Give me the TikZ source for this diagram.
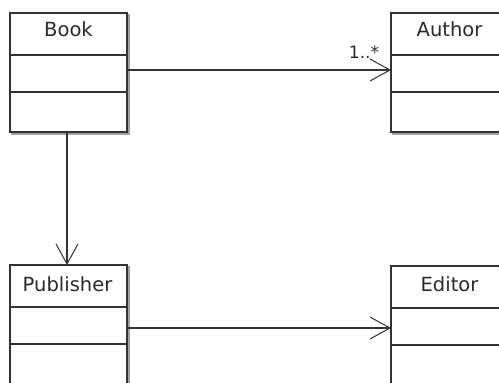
\documentclass[tikz,border=0pt]{standalone}
\usepackage{fontspec}
\setmainfont{DejaVu Sans}
\usetikzlibrary{arrows.meta}
\definecolor{ln}{HTML}{333333}
\definecolor{shd}{HTML}{A0A0A0}
\definecolor{txt}{HTML}{2A2A2A}
\tikzset{
  cls/.style={draw=ln, line width=1.3pt, fill=white, minimum width=117pt, minimum height=119pt,
    anchor=north west, inner sep=0pt, outer sep=0pt},
  shadowbox/.style={draw=shd, line width=1.3pt, minimum width=117pt, minimum height=119pt,
    anchor=north west, inner sep=0pt, outer sep=0pt},
  ctitle/.style={font=\fontsize{19.5}{20}\selectfont, text=txt, inner sep=0pt, anchor=base},
  multl/.style={font=\fontsize{17}{18}\selectfont, text=txt, inner sep=0pt, anchor=base},
  div/.style={draw=ln, line width=1.3pt},
  assoc/.style={draw=ln, line width=1.2pt, -{Straight Barb[length=20pt,width=22pt,line width=1pt]}},
}
\begin{document}
\begin{tikzpicture}[x=1pt,y=-1pt]
\useasboundingbox (0,0) rectangle (499,383);
\clip (0,0) rectangle (499,383);
% shadows
\node[shadowbox] (bookS) at (12,15) {};
\node[shadowbox] (authorS) at (393,15) {};
\node[shadowbox] (publisherS) at (12,267) {};
\node[shadowbox] (editorS) at (393,268) {};
% classes
\node[cls] (book) at (10,13) {};
\node[cls] (author) at (391,13) {};
\node[cls] (publisher) at (10,265) {};
\node[cls] (editor) at (391,266) {};
% titles
\node[ctitle] (bookT) at ([yshift=-23pt]book.north) {Book};
\node[ctitle] (authorT) at ([yshift=-23.5pt]author.north) {Author};
\node[ctitle] (publisherT) at ([xshift=-1pt,yshift=-26pt]publisher.north) {Publisher};
\node[ctitle] (editorT) at ([yshift=-25pt]editor.north) {Editor};
% dividers
\foreach \c in {book,author,publisher,editor}{
  \draw[div] ([yshift=-42pt]\c.north west) -- ([yshift=-42pt]\c.north east);
  \draw[div] ([yshift=-79pt]\c.north west) -- ([yshift=-79pt]\c.north east);
}
% associations
\draw[assoc] ([yshift=-57pt]book.north east) -- ([yshift=-57pt]author.north west);
\draw[assoc] ([yshift=-63pt]publisher.north east) -- ([yshift=-62pt]editor.north west);
\draw[assoc] ([xshift=-1.5pt]book.south) -- ([xshift=-1.5pt]publisher.north);
\node[multl] (mult) at ([xshift=-27pt,yshift=-45pt]author.north west) {1..*};
\end{tikzpicture}
\end{document}
